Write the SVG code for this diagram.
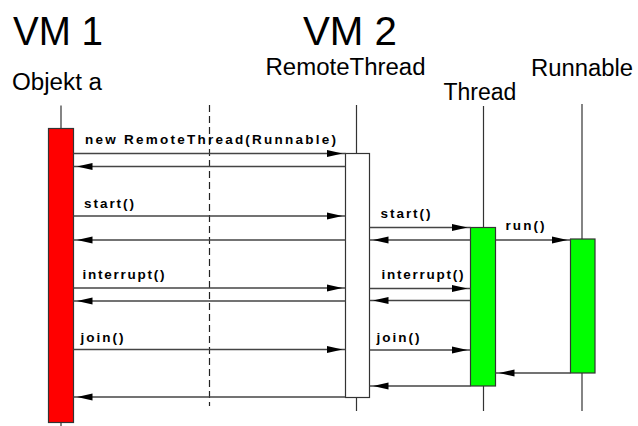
<svg xmlns="http://www.w3.org/2000/svg" width="638" height="426" viewBox="0 0 638 426">
<style>
.big{font-family:"Liberation Sans",Arial,sans-serif;font-size:41px;fill:#000}
.name{font-family:"Liberation Sans",Arial,sans-serif;font-size:23px;fill:#000}
.msg{font-family:"Liberation Sans",Arial,sans-serif;font-size:13.5px;font-weight:bold;fill:#000}
.life{stroke:#333;stroke-width:1.2;fill:none}
.dash{stroke:#222;stroke-width:1.2;stroke-dasharray:7 4;fill:none}
.arr{stroke:#444;stroke-width:1.3;fill:none;marker-end:url(#ah)}
.act{stroke:#333;stroke-width:1.2}
</style>
<defs>
<marker id="ah" markerUnits="userSpaceOnUse" markerWidth="16" markerHeight="8" viewBox="0 0 16 8" refX="19" refY="4" orient="auto">
<path d="M0,0.5 L16,4 L0,7.5 z" fill="#000"/>
</marker>
</defs>
<rect width="638" height="426" fill="#fff"/>
<text class="big" x="13" y="45" textLength="90" lengthAdjust="spacingAndGlyphs">VM 1</text>
<text class="big" x="303" y="45" textLength="94" lengthAdjust="spacingAndGlyphs">VM 2</text>
<line class="dash" x1="209.5" y1="105" x2="209.5" y2="406"/>
<g id="objekt-a">
<text class="name" x="12" y="90" textLength="90" lengthAdjust="spacingAndGlyphs">Objekt a</text>
<line class="life" x1="61" y1="105.5" x2="61" y2="426"/>
<rect class="act" x="48.5" y="128.5" width="25" height="294" fill="#ff0000"/>
</g>
<g id="remotethread">
<text class="name" x="265.5" y="75" textLength="160" lengthAdjust="spacingAndGlyphs">RemoteThread</text>
<line class="life" x1="356.5" y1="105" x2="356.5" y2="411"/>
<rect class="act" x="345.5" y="153.5" width="24" height="244" fill="#ffffff"/>
</g>
<g id="thread">
<text class="name" x="443.5" y="99.5">Thread</text>
<line class="life" x1="483.5" y1="106" x2="483.5" y2="411"/>
<rect class="act" x="470.5" y="227.5" width="25" height="158.5" fill="#00ff00"/>
</g>
<g id="runnable">
<text class="name" x="531" y="76" textLength="102" lengthAdjust="spacingAndGlyphs">Runnable</text>
<line class="life" x1="582" y1="104" x2="582" y2="411"/>
<rect class="act" x="570.5" y="239" width="24.5" height="134" fill="#00ff00"/>
</g>
<g id="connectors">
<line class="arr" x1="73.5" y1="153.5" x2="345.5" y2="153.5"/>
<line class="arr" x1="345.5" y1="166.5" x2="73.5" y2="166.5"/>
<line class="arr" x1="73.5" y1="216" x2="345.5" y2="216"/>
<line class="arr" x1="345.5" y1="240" x2="73.5" y2="240"/>
<line class="arr" x1="73.5" y1="288" x2="345.5" y2="288"/>
<line class="arr" x1="345.5" y1="301" x2="73.5" y2="301"/>
<line class="arr" x1="73.5" y1="349.5" x2="345.5" y2="349.5"/>
<line class="arr" x1="345.5" y1="397" x2="73.5" y2="397"/>
<line class="arr" x1="369.5" y1="227.5" x2="470.5" y2="227.5"/>
<line class="arr" x1="470.5" y1="240" x2="369.5" y2="240"/>
<line class="arr" x1="495.5" y1="240" x2="570.5" y2="240"/>
<line class="arr" x1="369.5" y1="288.5" x2="470.5" y2="288.5"/>
<line class="arr" x1="470.5" y1="300.5" x2="369.5" y2="300.5"/>
<line class="arr" x1="369.5" y1="350" x2="470.5" y2="350"/>
<line class="arr" x1="570.5" y1="373" x2="495.5" y2="373"/>
<line class="arr" x1="470.5" y1="386" x2="369.5" y2="386"/>
<text class="msg" x="85" y="143.5" textLength="251" lengthAdjust="spacing">new RemoteThread(Runnable)</text>
<text class="msg" x="84" y="207.5" textLength="50" lengthAdjust="spacing">start()</text>
<text class="msg" x="82.5" y="279" textLength="82" lengthAdjust="spacing">interrupt()</text>
<text class="msg" x="80.5" y="341.5" textLength="43" lengthAdjust="spacing">join()</text>
<text class="msg" x="380.5" y="217.5" textLength="50" lengthAdjust="spacing">start()</text>
<text class="msg" x="505.5" y="229.5" textLength="39" lengthAdjust="spacing">run()</text>
<text class="msg" x="381.5" y="278.5" textLength="82" lengthAdjust="spacing">interrupt()</text>
<text class="msg" x="376.5" y="341.5" textLength="43" lengthAdjust="spacing">join()</text>
</g>
</svg>
